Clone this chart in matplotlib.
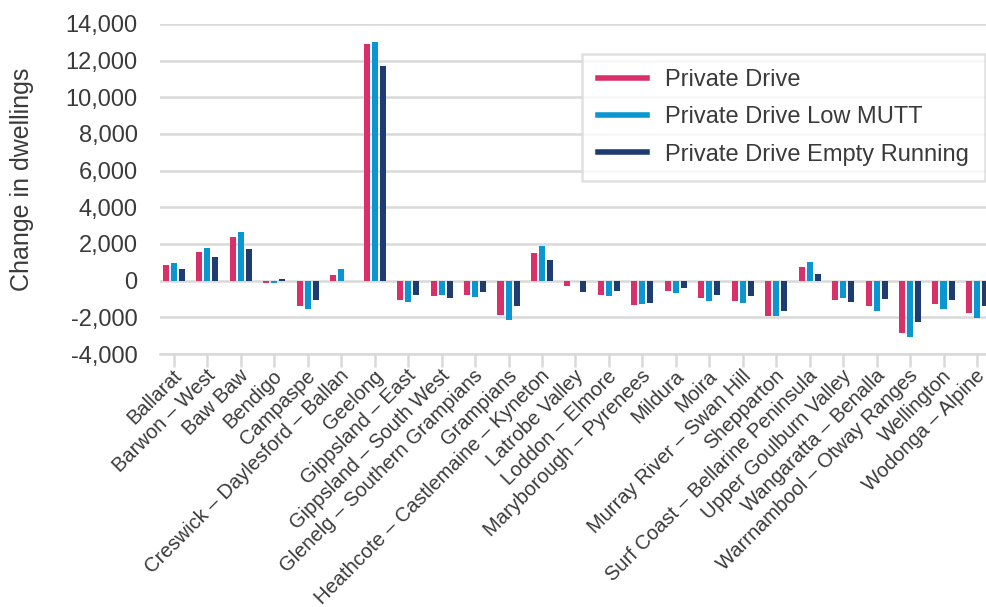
import numpy as np
import matplotlib.pyplot as plt
import matplotlib.transforms as mtransforms
from matplotlib.lines import Line2D

plt.rcParams['font.family'] = ['Liberation Sans', 'DejaVu Sans']

regions = [
    "Ballarat", "Barwon – West", "Baw Baw", "Bendigo", "Campaspe",
    "Creswick – Daylesford – Ballan", "Geelong", "Gippsland – East",
    "Gippsland – South West", "Glenelg – Southern Grampians", "Grampians",
    "Heathcote – Castlemaine – Kyneton", "Latrobe Valley", "Loddon – Elmore",
    "Maryborough – Pyrenees", "Mildura", "Moira", "Murray River – Swan Hill",
    "Shepparton", "Surf Coast – Bellarine Peninsula", "Upper Goulburn Valley",
    "Wangaratta – Benalla", "Warrnambool – Otway Ranges", "Wellington",
    "Wodonga – Alpine",
]

private_drive = [840, 1550, 2370, -150, -1400, 300, 12930, -1080, -860, -800,
                 -1900, 1500, -310, -800, -1350, -580, -970, -1130, -1950, 730,
                 -1080, -1400, -2830, -1300, -1790]
low_mutt = [950, 1770, 2650, -150, -1570, 620, 13040, -1190, -800, -910,
            -2170, 1880, 0, -860, -1300, -690, -1130, -1240, -1950, 1000,
            -970, -1630, -3050, -1520, -2060]
empty_running = [620, 1280, 1720, 100, -1080, 0, 11700, -800, -970, -640,
                 -1400, 1110, -640, -580, -1240, -420, -800, -860, -1630, 350,
                 -1190, -1020, -2230, -1080, -1400]

series_names = ["Private Drive", "Private Drive Low MUTT", "Private Drive Empty Running"]
colors = ["#D9306C", "#0A97D1", "#1E3C72"]
text_col = "#3a3a3a"
grid_col = "#d9d9d9"

fig = plt.figure(figsize=(9.87, 6.07), dpi=100)
ax = fig.add_axes([0.162, 0.4168, 0.838, 0.5437])

x = np.arange(len(regions))
width = 0.18
step = 0.24
for k, vals in enumerate([private_drive, low_mutt, empty_running]):
    ax.bar(x + (k - 1) * step, vals, width, color=colors[k], zorder=3)

ax.set_xlim(-0.42, len(regions) - 1 + 0.3)
ax.set_ylim(-4000, 14000)
ax.set_yticks(np.arange(-4000, 14001, 2000))
ax.set_yticklabels([f"{v:,}" for v in range(-4000, 14001, 2000)])
ax.yaxis.grid(True, color=grid_col, linewidth=1.8, zorder=0)
ax.tick_params(axis='y', length=0, pad=16, labelsize=17, labelcolor=text_col)

# category ticks, labels drawn separately (shifted a little right of the tick)
ax.set_xticks(x)
ax.set_xticklabels([])
ax.tick_params(axis='x', length=9, width=1.8, color=grid_col)
shift = mtransforms.ScaledTranslation(0.05, -0.19, fig.dpi_scale_trans)
trans = mtransforms.blended_transform_factory(ax.transData, ax.transAxes) + shift
for xi, name in zip(x, regions):
    ax.text(xi, 0, name, transform=trans, rotation=45, ha='right', va='center',
            rotation_mode='anchor', fontsize=14.5, color=text_col, clip_on=False)

for s in ['top', 'right', 'left']:
    ax.spines[s].set_visible(False)
ax.spines['bottom'].set_color(grid_col)
ax.spines['bottom'].set_linewidth(1.8)

ax.set_ylabel("Change in dwellings", fontsize=18, color=text_col)
ax.yaxis.set_label_coords(-0.152, 0.53)

handles = [Line2D([0], [0], color=c, linewidth=4) for c in colors]
leg = ax.legend(handles, series_names, loc='upper right', bbox_to_anchor=(0.997, 0.91),
                borderaxespad=0, fontsize=17, frameon=True, fancybox=False,
                handlelength=2.1, handletextpad=0.76, labelspacing=0.65,
                borderpad=0.65, labelcolor=text_col)
leg.get_frame().set_edgecolor(grid_col)
leg.get_frame().set_linewidth(1.8)

plt.savefig("out.png", dpi=100)
